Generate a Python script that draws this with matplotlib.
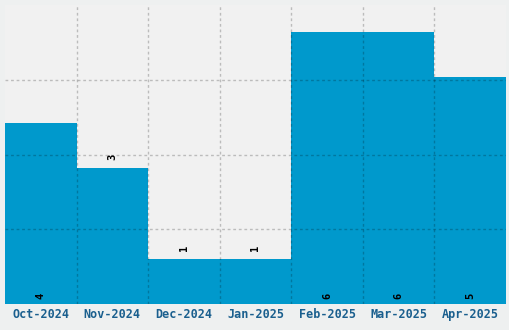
import numpy as np
import matplotlib
matplotlib.use("Agg")
import matplotlib.pyplot as plt

# monthly counts
months = ["Oct-2024", "Nov-2024", "Dec-2024", "Jan-2025", "Feb-2025", "Mar-2025", "Apr-2025"]
counts = [4, 3, 1, 1, 6, 6, 5]
# where the value label sits: inside bottom of bar or just above bar top
label_inside = [True, False, False, False, True, True, True]

bar_color = "#0099cc"
ymax = 6.6

fig = plt.figure(figsize=(5.1, 3.3), dpi=100, facecolor="#eef0f0")
ax = fig.add_axes([5 / 510, 26 / 330, 501 / 510, 299 / 330])
ax.set_facecolor("#f1f1f1")

x = np.arange(len(months))
ax.bar(x, counts, width=1.0, color=bar_color, zorder=1)

for xi, c, inside in zip(x, counts, label_inside):
    y0 = 0.11 if inside else c + 0.18
    ax.text(xi, y0, str(c), rotation=90, ha="center", va="bottom",
            fontsize=7.5, fontweight="bold", family="DejaVu Sans Mono", color="black", zorder=3)

ax.set_xlim(-0.5, len(months) - 0.5)
ax.set_ylim(0, ymax)
ax.set_xticks(x)
ax.set_xticklabels(months, fontsize=8.5, fontweight="bold", family="DejaVu Sans Mono", color="#1a5f8e")
ax.set_xticks(x[:-1] + 0.5, minor=True)
ax.set_yticks(np.linspace(0, ymax, 5)[1:-1])
ax.set_yticklabels([])
ax.tick_params(axis="both", which="both", length=0, pad=3)

ax.grid(True, which="minor", axis="x", color="black", alpha=0.22, linestyle=(0, (2, 2)), linewidth=1, zorder=2)
ax.grid(True, which="major", axis="y", color="black", alpha=0.22, linestyle=(0, (2, 2)), linewidth=1, zorder=2)
ax.set_axisbelow(False)

for s in ax.spines.values():
    s.set_visible(False)

plt.savefig("out.png", dpi=100, facecolor=fig.get_facecolor())
